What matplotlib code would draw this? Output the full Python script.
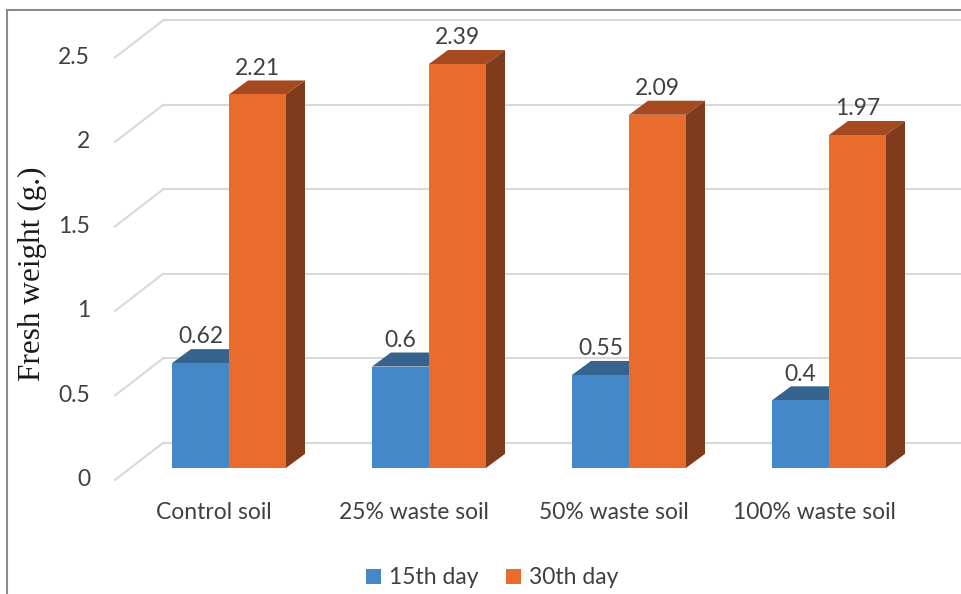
import matplotlib
matplotlib.use("Agg")
import matplotlib.pyplot as plt
from matplotlib.patches import Polygon, Patch
from matplotlib.lines import Line2D

categories = ["Control soil", "25% waste soil", "50% waste soil", "100% waste soil"]
day15 = [0.62, 0.6, 0.55, 0.4]
day30 = [2.21, 2.39, 2.09, 1.97]
series_names = ["15th day", "30th day"]
yticks = [0, 0.5, 1, 1.5, 2, 2.5]

# face colours: front, top, side
BLUE = ("#4389c9", "#36628e", "#2f5a85")
ORANGE = ("#e96c2c", "#a54a20", "#7f3c1d")
GRID = "#d9d9d9"
INK = "#404040"
FS = 16.5

BAR_W = 0.285          # front face width (category units)
DX, DY = 0.095, 0.083  # bar depth offset
WALL_DY = 0.148        # back wall offset above the bar base
FLOOR_DY = -0.071      # front floor edge below the bar base
X_FRONT, X_BACK = -0.57, -0.33

plt.rcParams["font.family"] = ["Lato", "DejaVu Sans"]

fig = plt.figure(figsize=(9.62, 5.94), dpi=100)
ax = fig.add_axes([0, 0, 1, 1])
ax.set_xlim(-1.145, 3.665)
ax.set_ylim(-0.746, 2.769)
ax.axis("off")

# perspective gridlines: diagonal on the side wall + horizontal on the back wall
for v in yticks:
    ax.plot([X_FRONT, X_BACK], [v + FLOOR_DY, v + WALL_DY], color=GRID, lw=1.5, zorder=1)
    ax.plot([X_BACK, 3.8], [v + WALL_DY, v + WALL_DY], color=GRID, lw=1.5, zorder=1)
    ax.text(-0.695, v + FLOOR_DY, f"{v:g}", ha="right", va="center", fontsize=FS, color=INK)


def bar3d(x0, h, cols, z):
    x1 = x0 + BAR_W
    ax.bar(x0, h, BAR_W, align="edge", color=cols[0], lw=0, zorder=z)
    top = [(x0, h), (x1, h), (x1 + DX, h + DY), (x0 + DX, h + DY)]
    side = [(x1, 0), (x1, h), (x1 + DX, h + DY), (x1 + DX, DY)]
    ax.add_patch(Polygon(top, closed=True, fc=cols[1], lw=0, zorder=z - 0.5))
    ax.add_patch(Polygon(side, closed=True, fc=cols[2], lw=0, zorder=z - 0.5))
    ax.text(x0 + BAR_W / 2, h + 0.155, f"{h:g}", ha="center", va="center",
            fontsize=FS, color=INK, zorder=10)


for i, (a, b) in enumerate(zip(day15, day30)):
    bar3d(i - BAR_W, a, BLUE, 3)
    bar3d(i, b, ORANGE, 5)
    ax.text(i - 0.075, -0.266, categories[i], ha="center", va="center",
            fontsize=FS, color=INK)

ax.text(-0.985, 1.15, "Fresh weight (g.)", rotation=90, ha="center", va="center",
        fontsize=22.5, color="#1a1a1a", family=["Liberation Serif", "DejaVu Serif"])

handles = [Patch(fc=BLUE[0]), Patch(fc=ORANGE[0])]
fig.legend(handles, series_names, loc="center", bbox_to_anchor=(0.512, 0.027),
           ncol=2, frameon=False, fontsize=FS, handlelength=0.65, handleheight=0.65,
           handletextpad=0.35, columnspacing=1.2, labelcolor=INK)

# outer chart border (top and left edges)
fig.add_artist(Line2D([7 / 962, 7 / 962], [0, 1 - 10 / 594], color="#8c8c8c", lw=1.5))
fig.add_artist(Line2D([7 / 962, 1], [1 - 10 / 594, 1 - 10 / 594], color="#8c8c8c", lw=1.5))

fig.savefig("out.png", dpi=100)
